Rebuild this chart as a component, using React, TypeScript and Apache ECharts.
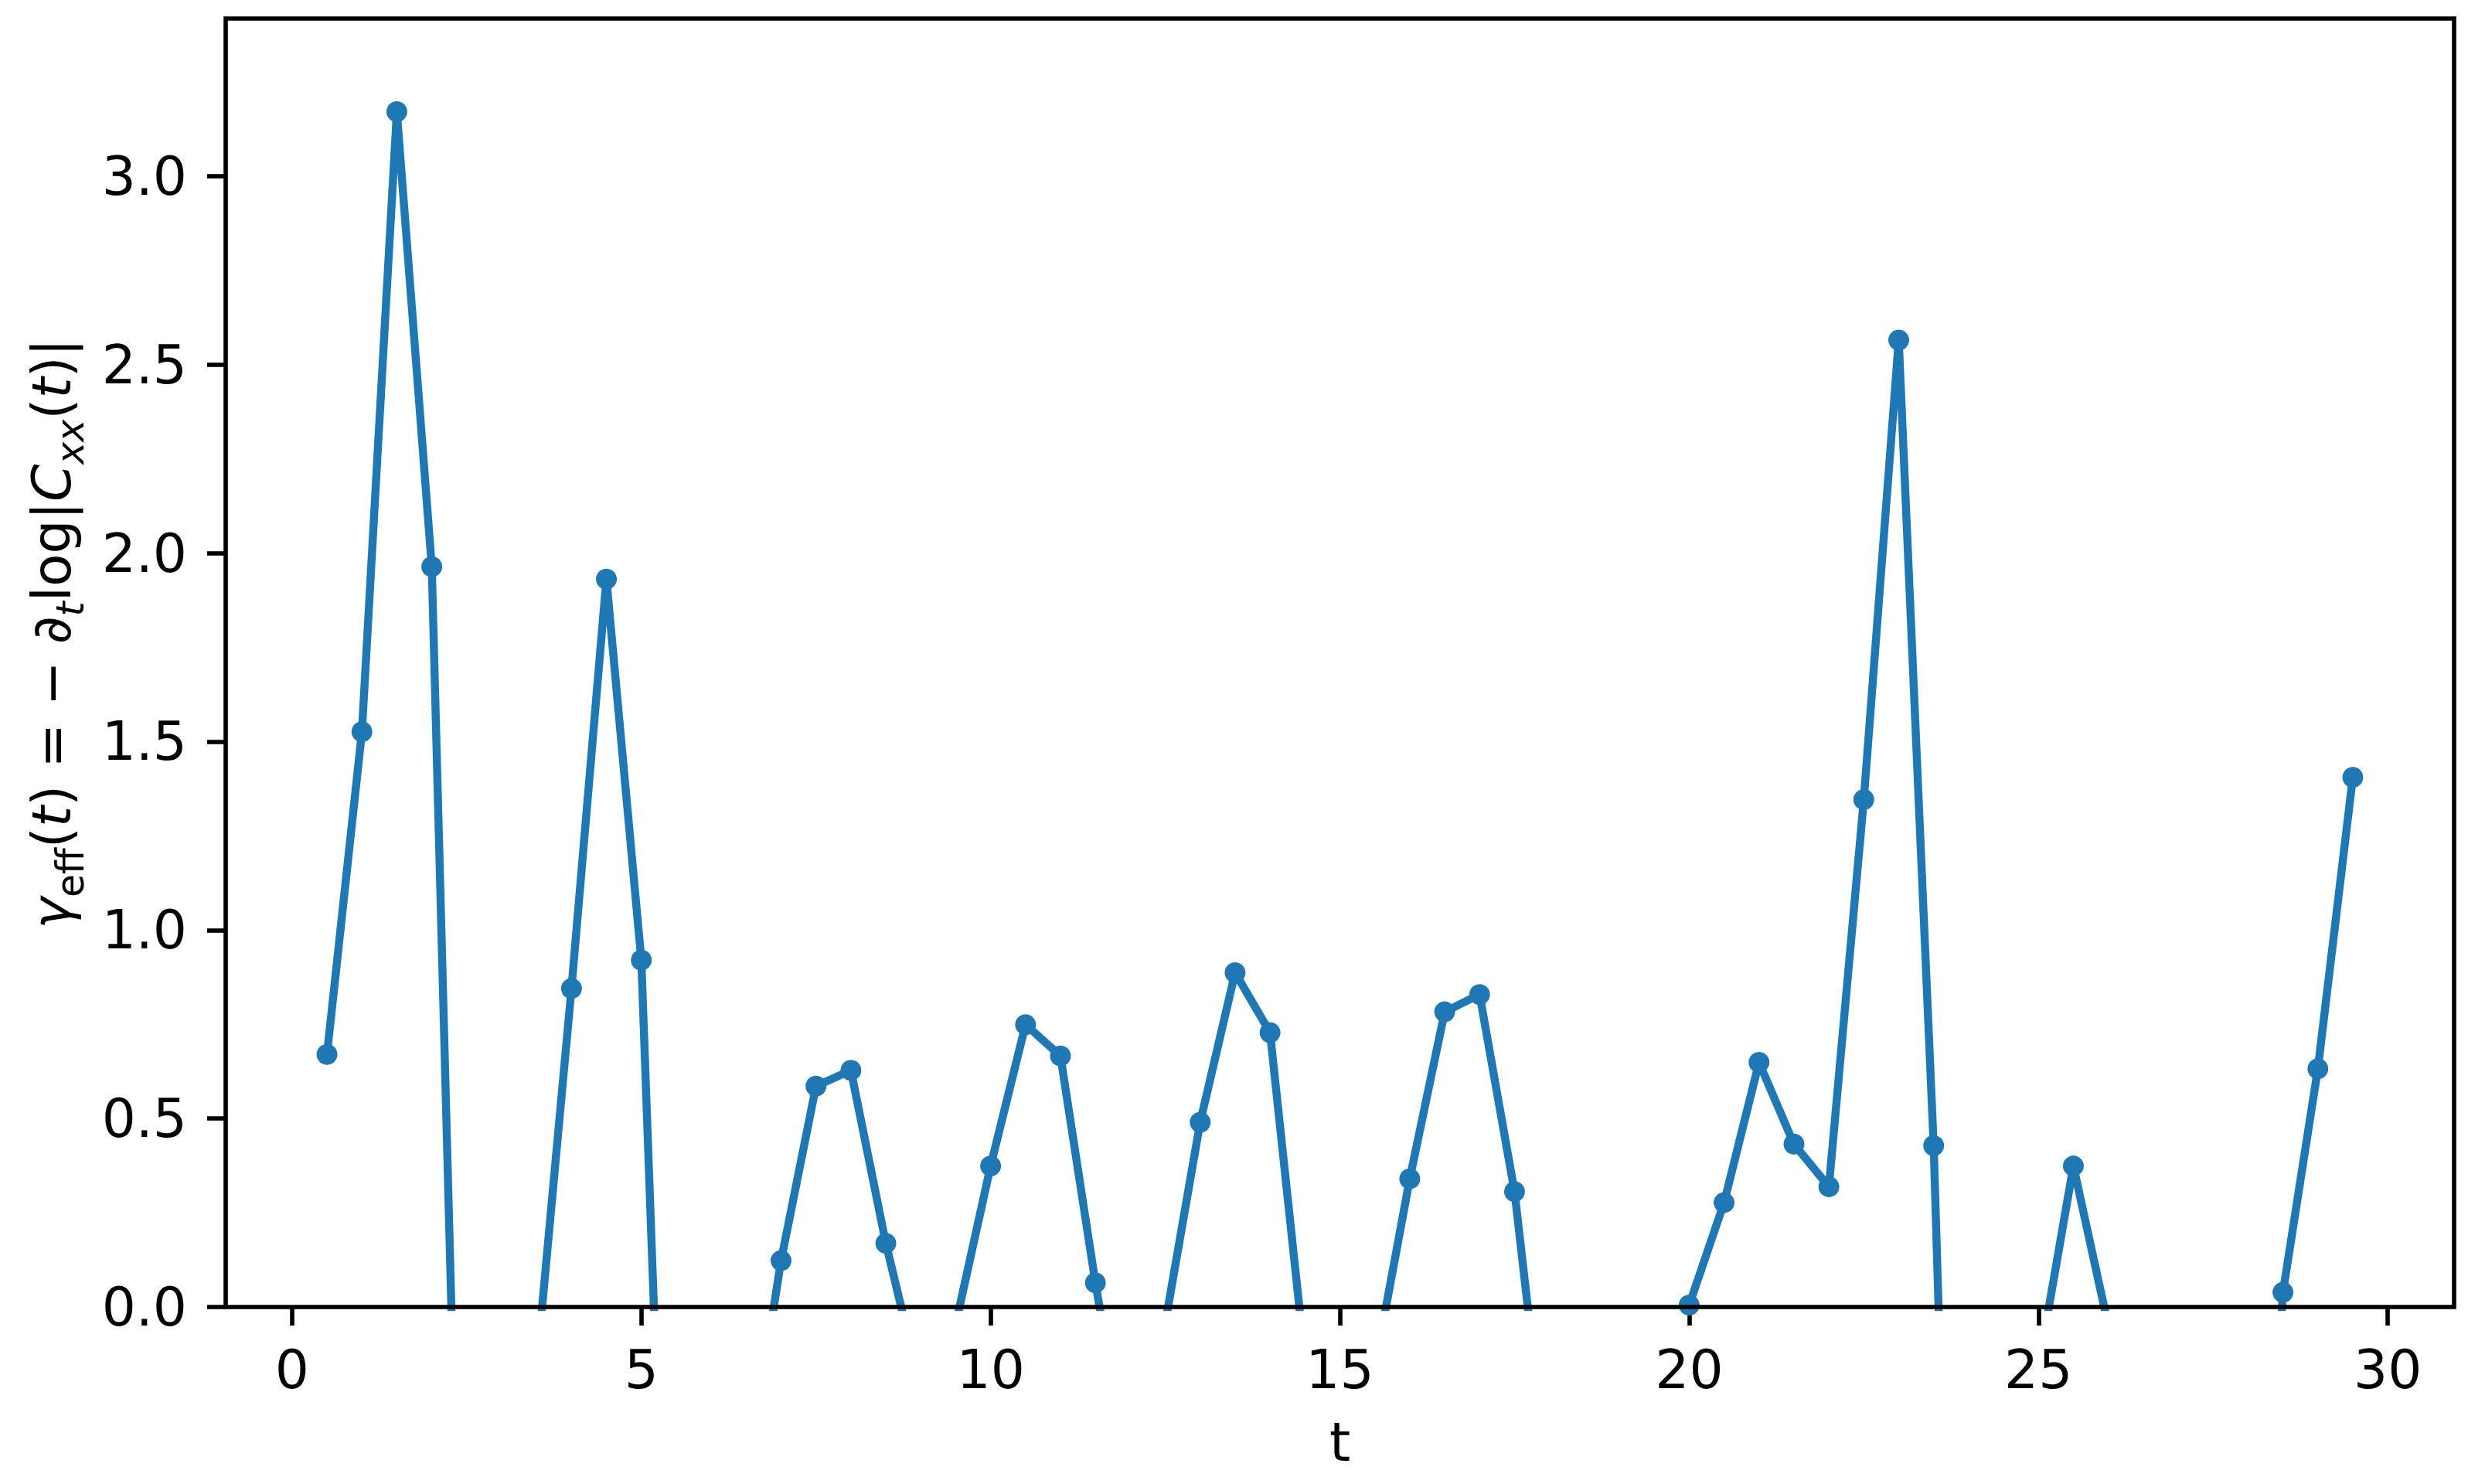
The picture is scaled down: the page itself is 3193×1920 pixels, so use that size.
import React, { useEffect, useRef } from "react";
import * as echarts from "echarts";

const tValues = [
  0.5, 1.0, 1.5, 2.0, 2.5, 3.0, 3.5, 4.0, 4.5, 5.0, 5.5, 6.0, 6.5, 7.0, 7.5, 8.0, 8.5, 9.0, 9.5, 10.0,
  10.5, 11.0, 11.5, 12.0, 12.5, 13.0, 13.5, 14.0, 14.5, 15.0, 15.5, 16.0, 16.5, 17.0, 17.5, 18.0, 18.5,
  19.0, 19.5, 20.0, 20.5, 21.0, 21.5, 22.0, 22.5, 23.0, 23.5, 24.0, 24.5, 25.0, 25.5, 26.0, 26.5, 27.0,
  27.5, 28.0, 28.5, 29.0, 29.5,
];
const gammaValues = [
  0.670, 1.526, 3.171, 1.964, -1.54, -0.8, -0.16, 0.845, 1.931, 0.92, -1.64, -1.0, -0.47, 0.123, 0.586,
  0.628, 0.169, -0.215, -0.046, 0.374, 0.749, 0.666, 0.064, -0.47, -0.043, 0.49, 0.887, 0.728, -0.14,
  -0.6, -0.16, 0.34, 0.783, 0.829, 0.306, -0.5, -0.7, -0.4, -0.3, 0.005, 0.277, 0.649, 0.432, 0.319,
  1.346, 2.565, 0.428, -2.63, -1.0, -0.16, 0.374, -0.05, -0.6, -0.8, -0.5, -1.5, 0.039, 0.632, 1.405,
];
const xTicks = [0, 5, 10, 15, 20, 25, 30];
const yTicks = [0, 0.5, 1.0, 1.5, 2.0, 2.5, 3.0];

const W = 3193;
const H = 1920;
const L = 292;
const R = 3175;
const T = 24;
const B = 1691;
const FS = 69.4;
const FONT = "DejaVu Sans";
const BLUE = "#1f77b4";

export default function App() {
  const ref = useRef<HTMLDivElement>(null);
  useEffect(() => {
    if (!ref.current) return;
    const chart = echarts.init(ref.current, null, { renderer: "svg" });
    const data = tValues.map((t, i) => [t, gammaValues[i]]);
    const subPad = [48, 0, 0, 0];
    chart.setOption({
      animation: false,
      backgroundColor: "#ffffff",
      grid: {
        left: L,
        top: T,
        right: W - R,
        bottom: H - B,
        containLabel: false,
        outerBoundsMode: "none",
        show: false,
      },
      xAxis: {
        type: "value",
        min: -0.95,
        max: 30.95,
        name: "t",
        nameLocation: "middle",
        nameGap: 140,
        nameTextStyle: { fontSize: FS, fontFamily: FONT, color: "#000", lineHeight: 70 },
        axisLine: { show: false, onZero: false },
        splitLine: { show: false },
        axisTick: {
          show: true,
          inside: false,
          length: 24,
          customValues: xTicks,
          lineStyle: { color: "#000", width: 5.6 },
        },
        axisLabel: {
          show: true,
          customValues: xTicks,
          margin: 46,
          fontSize: FS,
          lineHeight: 70,
          fontFamily: FONT,
          color: "#000",
          formatter: (v: number) => String(v),
        },
      },
      yAxis: {
        type: "value",
        min: 0,
        max: 3.418,
        axisLine: { show: false, onZero: false },
        splitLine: { show: false },
        axisTick: {
          show: true,
          inside: false,
          length: 24,
          customValues: yTicks,
          lineStyle: { color: "#000", width: 5.6 },
        },
        axisLabel: {
          show: true,
          customValues: yTicks,
          margin: 50,
          fontSize: FS,
          fontFamily: FONT,
          color: "#000",
          formatter: (v: number) => v.toFixed(1),
        },
      },
      series: [
        {
          type: "line",
          data,
          clip: true,
          symbol: "circle",
          symbolSize: 27,
          showAllSymbol: true,
          itemStyle: { color: BLUE },
          lineStyle: { color: BLUE, width: 10.4 },
          emphasis: { disabled: true },
          z: 2,
        },
      ],
      graphic: [
        {
          type: "rect",
          z: 100,
          shape: { x: L, y: T, width: R - L, height: B - T },
          style: { fill: "none", stroke: "#000", lineWidth: 5.6 },
          silent: true,
        },
        {
          type: "text",
          z: 100,
          x: 67,
          y: 820,
          rotation: Math.PI / 2,
          silent: true,
          style: {
            text:
              "{g|γ}{sub|eff}{n|(}{i|t}{n|) = − ∂}{isub|t}{n|log|}{i|C}{isub|xx}{n|(}{i|t}{n|)|}",
            align: "center",
            verticalAlign: "middle",
            fontSize: FS,
            fontFamily: FONT,
            fill: "#000",
            rich: {
              g: { fontSize: FS, fontFamily: FONT, fontStyle: "italic", fill: "#000", verticalAlign: "middle" },
              n: { fontSize: FS, fontFamily: FONT, fill: "#000", verticalAlign: "middle" },
              i: { fontSize: FS, fontFamily: FONT, fontStyle: "italic", fill: "#000", verticalAlign: "middle" },
              sub: { fontSize: 49, fontFamily: FONT, fill: "#000", padding: subPad, verticalAlign: "middle" },
              isub: {
                fontSize: 49,
                fontFamily: FONT,
                fontStyle: "italic",
                fill: "#000",
                padding: subPad,
                verticalAlign: "middle",
              },
            },
          },
        },
      ],
    });
    return () => chart.dispose();
  }, []);
  return (
    <div
      ref={ref}
      style={{ position: "absolute", left: 0, top: 0, width: W, height: H, background: "#fff" }}
    />
  );
}
